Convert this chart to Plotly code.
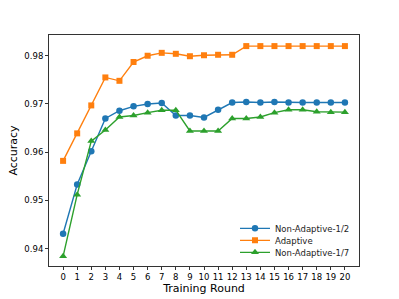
import plotly.graph_objects as go

rounds = list(range(21))
non_adaptive_half = [0.9431, 0.9533, 0.9602, 0.9670, 0.9686, 0.9695, 0.9700, 0.9702, 0.9676, 0.9676, 0.9672,
                     0.9688, 0.9703, 0.9704, 0.9703, 0.9704, 0.9703, 0.9703, 0.9703, 0.9703, 0.9703]
adaptive = [0.9582, 0.9639, 0.9697, 0.9755, 0.9748, 0.9787, 0.9800, 0.9806, 0.9804, 0.9799, 0.9801,
            0.9802, 0.9802, 0.9820, 0.9820, 0.9820, 0.9820, 0.9820, 0.9820, 0.9820, 0.9820]
non_adaptive_seventh = [0.9384, 0.9512, 0.9623, 0.9646, 0.9673, 0.9676, 0.9682, 0.9687, 0.9687, 0.9644, 0.9644,
                        0.9644, 0.9670, 0.9670, 0.9673, 0.9682, 0.9688, 0.9688, 0.9684, 0.9683, 0.9683]
y_ticks = [0.94, 0.95, 0.96, 0.97, 0.98]

series = [
    ("Non-Adaptive-1/2", non_adaptive_half, "#1f77b4", "circle", 6.5, "legend", 0.163),
    ("Adaptive", adaptive, "#ff7f0e", "square", 6, "legend2", 0.111),
    ("Non-Adaptive-1/7", non_adaptive_seventh, "#2ca02c", "triangle-up", 7, "legend3", 0.059),
]

font_family = "DejaVu Sans"
fig = go.Figure()
legends = {}
for name, vals, color, sym, ms, lg, ly in series:
    fig.add_trace(go.Scatter(
        x=rounds, y=vals, name=name, mode="lines+markers",
        line=dict(color=color, width=1.4),
        marker=dict(color=color, symbol=sym, size=ms),
        legend=lg,
    ))
    legends[lg] = dict(
        x=0.6, y=ly, xanchor="left", yanchor="middle",
        bgcolor="rgba(0,0,0,0)", borderwidth=0,
        font=dict(family=font_family, size=8.5, color="#222"),
    )

fig.update_layout(
    width=399, height=299,
    margin=dict(l=49, r=40, t=35, b=33, pad=0),
    paper_bgcolor="white", plot_bgcolor="white",
    font=dict(family=font_family, size=8.5, color="black"),
    showlegend=True,
    **legends,
)
fig.update_xaxes(
    range=[-1, 21], tickmode="array", tickvals=rounds, ticktext=[str(r) for r in rounds],
    showgrid=False, zeroline=False, showline=True, linecolor="#333", linewidth=1, mirror=True,
    ticks="outside", ticklen=3, tickwidth=1, tickcolor="#333", automargin=False,
    tickfont=dict(size=8.5, family=font_family),
    title=dict(text="Training Round", font=dict(size=11, family=font_family), standoff=2),
)
fig.update_yaxes(
    range=[0.9364, 0.9843], tickmode="array", tickvals=y_ticks, ticktext=[f"{v:.2f}" for v in y_ticks],
    showgrid=False, zeroline=False, showline=True, linecolor="#333", linewidth=1, mirror=True,
    ticks="outside", ticklen=3, tickwidth=1, tickcolor="#333", automargin=False,
    tickfont=dict(size=8.5, family=font_family),
    title=dict(text="Accuracy", font=dict(size=11, family=font_family), standoff=4),
)
fig.write_html(
    "out.html",
    config={"displayModeBar": False},
    post_script="document.body.style.margin='0';document.body.style.padding='0';",
)
